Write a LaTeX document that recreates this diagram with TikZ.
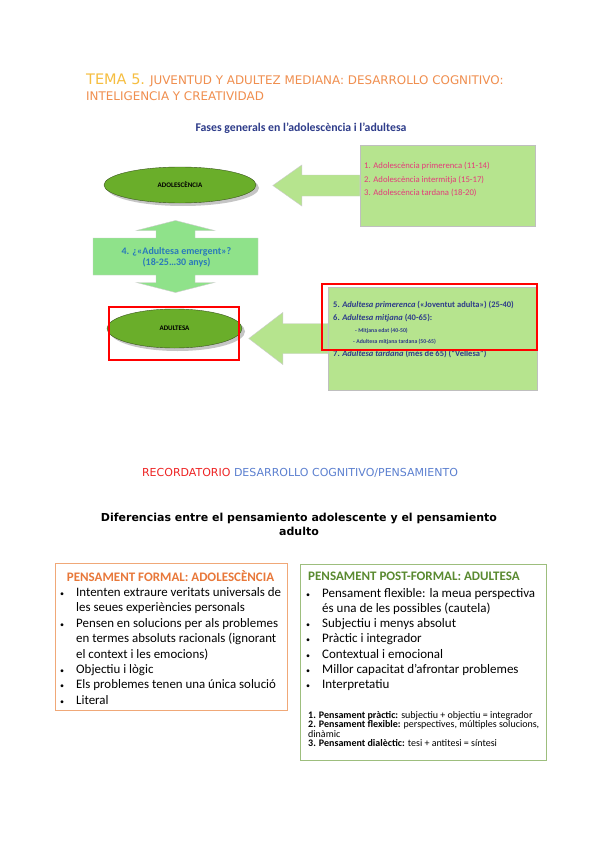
\documentclass[tikz,border=0pt]{standalone}
\usepackage{fontspec}
\setmainfont{Carlito}
\newfontfamily\dejavu{DejaVu Sans}
\usetikzlibrary{positioning,shapes.geometric,shadows}
\definecolor{temayel}{RGB}{246,190,64}
\definecolor{temaor}{RGB}{240,142,78}
\definecolor{fasenavy}{RGB}{46,60,138}
\definecolor{ovalgreen}{RGB}{106,174,42}
\definecolor{ovalline}{RGB}{58,84,30}
\definecolor{boxgreen}{RGB}{182,228,142}
\definecolor{emergreen}{RGB}{143,226,138}
\definecolor{emerblue}{RGB}{42,122,186}
\definecolor{phasepink}{RGB}{228,58,122}
\definecolor{recred}{RGB}{238,36,36}
\definecolor{recblue}{RGB}{92,128,208}
\definecolor{formor}{RGB}{232,120,58}
\definecolor{formline}{RGB}{240,168,120}
\definecolor{postgreen}{RGB}{90,138,48}
\definecolor{postline}{RGB}{157,190,125}
\newcommand{\itemdot}{\makebox[17pt][l]{\hspace{1pt}{\fontsize{8}{8}\selectfont\textbullet}}}
\newcommand{\itemgap}{\makebox[17pt]{}}

\begin{document}
\begin{tikzpicture}[x=1pt,y=-1pt,
  oval/.style={ellipse,draw=ovalline,fill=ovalgreen,inner sep=0pt,font=\bfseries\fontsize{7}{8}\selectfont,
    drop shadow={shadow xshift=3pt,shadow yshift=-3pt,fill=black!45}},
  phasebox/.style={draw=black!25,fill=boxgreen,inner sep=0pt},
  blockarrow/.style={draw=black!20,fill=boxgreen},
  redmark/.style={draw=red,line width=2.5pt,inner sep=0pt},
  txt/.style={inner sep=0pt,align=left}]
  \useasboundingbox[fill=white] (0,0) rectangle (599,848);

  \node[txt,anchor=base west,text=temaor,font=\dejavu\fontsize{11.9}{13}\selectfont] (tema) at (86,85)
    {{\color{temayel}\fontsize{14.5}{13}\selectfont TEMA 5.} JUVENTUD Y ADULTEZ MEDIANA: DESARROLLO COGNITIVO:};
  \node[txt,anchor=base west,text=temaor,font=\dejavu\fontsize{11.9}{13}\selectfont] (tema2) at (86,100.5)
    {INTELIGENCIA Y CREATIVIDAD};
  \node[txt,text=fasenavy,font=\bfseries\fontsize{11.8}{12}\selectfont] (fases) at (301,128)
    {Fases generals en l’adolescència i l’adultesa};

  \node[phasebox,minimum width=175,minimum height=81] (adolbox) at (447.5,185.5) {};
  \filldraw[blockarrow] (adolbox.west) ++(0,-10.5) -- ++(-58,0) -- ++(0,-10) -- ++(-29,20.5)
    -- ++(29,20.5) -- ++(0,-10) -- ++(58,0) -- cycle;
  \node[txt,anchor=west,text=phasepink,font=\fontsize{8.7}{13.5}\selectfont] (adolfases) at (364,179.5)
    {1. Adolescència primerenca (11-14)\\2. Adolescència intermitja (15-17)\\3. Adolescència tardana (18-20)};
  \node[oval,minimum width=152,minimum height=36] (adol) at (180,185) {ADOLESCÈNCIA};

  \filldraw[draw=black!20,fill=emergreen,shift={(175.5,256.5)}]
    (-82.5,-18.5) -- (-19.5,-18.5) -- (-19.5,-26) -- (-39,-26) -- (0,-36) -- (39,-26) -- (19.5,-26)
    -- (19.5,-18.5) -- (82.5,-18.5) -- (82.5,18.5) -- (19.5,18.5) -- (19.5,26) -- (39,26) -- (0,36)
    -- (-39,26) -- (-19.5,26) -- (-19.5,18.5) -- (-82.5,18.5) -- cycle;
  \node[txt,align=center,text=emerblue,font=\bfseries\fontsize{10}{10.5}\selectfont] (emerg) at (176.5,257.5)
    {4. ¿«Adultesa emergent»?\\(18-25…30 anys)};

  \node[phasebox,minimum width=209,minimum height=103] (adultbox) at (432.5,338.5) {};
  \filldraw[blockarrow] (adultbox.west) ++(0,-15) -- ++(-45,0) -- ++(0,-11) -- ++(-34,26)
    -- ++(34,26) -- ++(0,-11) -- ++(45,0) -- cycle;
  \node[txt,anchor=west,text=fasenavy,font=\bfseries\fontsize{8.5}{9}\selectfont] (fase5) at (333,305)
    {5. \textit{Adultesa primerenca} («Joventut adulta») (25-40)};
  \node[txt,anchor=west,text=fasenavy,font=\bfseries\fontsize{8.5}{9}\selectfont] (fase6) at (333,318)
    {6. \textit{Adultesa mitjana} (40-65):};
  \node[txt,anchor=west,text=fasenavy,font=\bfseries\fontsize{5.8}{6}\selectfont] (fase6a) at (355,331)
    {- Mitjana edat (40-50)};
  \node[txt,anchor=west,text=fasenavy,font=\bfseries\fontsize{5.8}{6}\selectfont] (fase6b) at (353,342)
    {- Adultesa mitjana tardana (50-65)};
  \node[txt,anchor=west,text=fasenavy,font=\bfseries\fontsize{8.5}{9}\selectfont] (fase7) at (333,354)
    {7. \textit{Adultesa tardana} (més de 65) (“Vellesa”)};
  \node[oval,minimum width=135,minimum height=39] (adult) at (174.5,328.5) {ADULTESA};

  \node[redmark,minimum width=130,minimum height=53] (markadult) at (174,333.5) {};
  \node[redmark,minimum width=215,minimum height=66] (markfases) at (429.5,317) {};

  \node[txt,font=\dejavu\fontsize{11}{12}\selectfont,text=recblue] (recor) at (300,473)
    {{\color{recred}RECORDATORIO} DESARROLLO COGNITIVO/PENSAMIENTO};
  \node[txt,align=center,font=\dejavu\bfseries\fontsize{11}{14}\selectfont] (dif) at (299,524)
    {Diferencias entre el pensamiento adolescente y el pensamiento\\adulto};

  \node[draw=formline,line width=0.8pt,minimum width=232,minimum height=147] (formbox) at (171,636.5) {};
  \node[txt,text=formor,font=\bfseries\fontsize{13}{14}\selectfont] (formtitle) at (170.5,576)
    {PENSAMENT FORMAL: ADOLESCÈNCIA};
  \node[txt,anchor=west,font=\fontsize{12.9}{15.4}\selectfont] (formlist) at (59,646)
    {\itemdot Intenten extraure veritats universals de\\
     \itemgap les seues experiències personals\\
     \itemdot Pensen en solucions per als problemes\\
     \itemgap en termes absoluts racionals (ignorant\\
     \itemgap el context i les emocions)\\
     \itemdot Objectiu i lògic\\
     \itemdot Els problemes tenen una única solució\\
     \itemdot Literal};

  \node[draw=postline,line width=0.8pt,minimum width=246,minimum height=196] (postbox) at (423,662) {};
  \node[txt,anchor=west,text=postgreen,font=\bfseries\fontsize{13}{14}\selectfont] (posttitle) at (308,576)
    {PENSAMENT POST-FORMAL: ADULTESA};
  \node[txt,anchor=west,font=\fontsize{13}{15.2}\selectfont] (postlist) at (305,639.5)
    {\itemdot Pensament flexible: la meua perspectiva\\
     \itemgap és una de les possibles (cautela)\\
     \itemdot Subjectiu i menys absolut\\
     \itemdot Pràctic i integrador\\
     \itemdot Contextual i emocional\\
     \itemdot Millor capacitat d’afrontar problemes\\
     \itemdot Interpretatiu};
  \node[txt,anchor=west,font=\fontsize{10}{9.4}\selectfont] (postnotes) at (308,729)
    {\textbf{1. Pensament pràctic:} subjectiu + objectiu = integrador\\
     \textbf{2. Pensament flexible:} perspectives, múltiples solucions,\\
     dinàmic\\
     \textbf{3. Pensament dialèctic:} tesi + antitesi = síntesi};
\end{tikzpicture}
\end{document}
